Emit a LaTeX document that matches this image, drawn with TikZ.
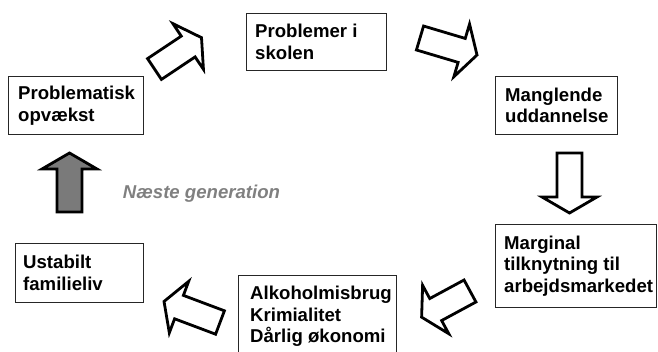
\documentclass[tikz,border=0pt]{standalone}
\usepackage{fontspec}
\setmainfont{Liberation Sans}
\newcommand\cyclearrow[4][blk]{%
  \begin{scope}[shift={(#2)}, rotate=#3]
    \draw[#1] (0,-12.5) -- ({#4-16},-12.5) -- ({#4-16},-27.5) -- (#4,0)
      -- ({#4-16},27.5) -- ({#4-16},12.5) -- (0,12.5) -- cycle;
  \end{scope}}
\begin{document}
\begin{tikzpicture}[x=1pt,y=-1pt,
  box/.style={draw=black!85, line width=0.9pt, inner sep=0pt, anchor=north west},
  lbl/.style={font=\bfseries\fontsize{18.6}{21.7}\selectfont, align=left, inner sep=0pt, anchor=west},
  blk/.style={draw=black, line width=2.8pt, fill=white, line join=miter},
  gblk/.style={blk, fill=black!52}]
\useasboundingbox (0,0) rectangle (658,352);
% boxes
\node[box, minimum width=135pt, minimum height=58pt] (b1) at (8,76) {};
\node[box, minimum width=140pt, minimum height=57pt] (b2) at (246,13) {};
\node[box, minimum width=122pt, minimum height=58pt] (b3) at (495,76) {};
\node[box, minimum width=161pt, minimum height=83pt] (b4) at (495,224) {};
\node[box, minimum width=158pt, minimum height=82pt] (b5) at (238,275) {};
\node[box, minimum width=128pt, minimum height=59pt] (b6) at (15,243) {};
% labels
\node[lbl] (t1) at ([xshift=10pt]b1.west) {Problematisk\\opvækst};
\node[lbl] (t2) at ([xshift=9pt]b2.west) {Problemer i\\skolen};
\node[lbl] (t3) at ([xshift=10pt]b3.west) {Manglende\\uddannelse};
\node[lbl] (t4) at ([xshift=9pt]b4.west) {Marginal\\tilknytning til\\arbejdsmarkedet};
\node[lbl] (t5) at ([xshift=12pt]b5.west) {Alkoholmisbrug\\Krimialitet\\Dårlig økonomi};
\node[lbl] (t6) at ([xshift=8pt]b6.west) {Ustabilt\\familieliv};
\node[font=\bfseries\itshape\fontsize{18.6}{21.7}\selectfont, text=black!50, inner sep=0pt, anchor=base] (ng) at (201.5,198.7) {Næste generation};
% block arrows
\coordinate (a1) at (154.5,69);
\coordinate (a2) at (420,38);
\coordinate (a3) at (569.5,153);
\coordinate (a4) at (470,291);
\coordinate (a5) at (220,322.5);
\coordinate (a6) at (69.5,212);
\cyclearrow{a1}{33.7}{56.5}
\cyclearrow{a2}{-16.6}{59.5}
\cyclearrow{a3}{-90}{60}
\cyclearrow{a4}{208.4}{55}
\cyclearrow{a5}{159.4}{59.8}
\cyclearrow[gblk]{a6}{90}{59}
\end{tikzpicture}
\end{document}
